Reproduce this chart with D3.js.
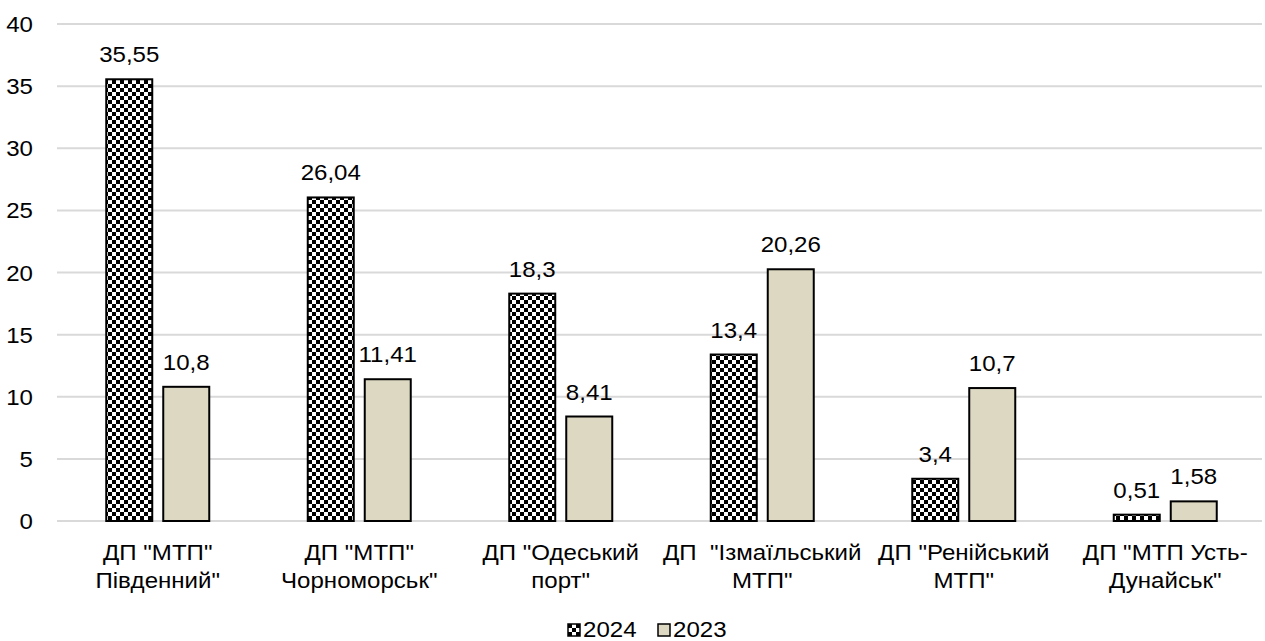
<!DOCTYPE html>
<html><head><meta charset="utf-8">
<script src="https://cdn.jsdelivr.net/npm/d3@7"></script>
<style>body{margin:0;background:#fff}svg{display:block;font-family:"Liberation Sans",Arial,sans-serif}</style>
</head><body><svg id="c" width="1265" height="641"></svg>
<script>
const categories = [["ДП \"МТП\"","Південний\""],["ДП \"МТП\"","Чорноморськ\""],["ДП \"Одеський","порт\""],["ДП  \"Ізмаїльський","МТП\""],["ДП \"Ренійський","МТП\""],["ДП \"МТП Усть-","Дунайськ\""]];
const values2024 = [35.55, 26.04, 18.3, 13.4, 3.4, 0.51];
const values2023 = [10.8, 11.41, 8.41, 20.26, 10.7, 1.58];
const labels2024 = ["35,55","26,04","18,3","13,4","3,4","0,51"];
const labels2023 = ["10,8","11,41","8,41","20,26","10,7","1,58"];
const yTicks = [0,5,10,15,20,25,30,35,40];
const seriesNames = ["2024","2023"];

const FS = 21.5, SX = 1.12;
const svg = d3.select("#c");
const defs = svg.append("defs");
const pat = defs.append("pattern").attr("id","chk").attr("patternUnits","userSpaceOnUse").attr("width",8).attr("height",8);
pat.append("rect").attr("width",8).attr("height",8).attr("fill","#fff");
pat.append("rect").attr("width",4).attr("height",4).attr("fill","#000");
pat.append("rect").attr("x",4).attr("y",4).attr("width",4).attr("height",4).attr("fill","#000");
const beige = "#ddd8c2";

function label(parent, x, yy, txt, anchor){
  return parent.append("text").attr("transform",`translate(${x},${yy}) scale(${SX},1)`)
    .attr("text-anchor",anchor||"middle").attr("font-size",FS).attr("fill","#000")
    .attr("style","white-space:pre").text(txt);
}

const x0 = d3.scaleBand().domain(d3.range(categories.length)).range([57, 1266]).paddingInner(0).paddingOuter(0);
const y = d3.scaleLinear().domain([0,40]).range([521, 24]);

svg.append("g").selectAll("line").data(yTicks).join("line")
  .attr("x1",57).attr("x2",1262).attr("y1",d=>y(d)).attr("y2",d=>y(d))
  .attr("stroke","#d9d9d9").attr("stroke-width",2);

const yg = svg.append("g");
yTicks.forEach(d=>label(yg, 33, y(d)+8, String(d), "end"));

const bw = 46, gap = 11;
const g = svg.append("g");
categories.forEach((c,i)=>{
  const cx = x0(i) + x0.bandwidth()/2;
  const xa = cx - gap/2 - bw, xb = cx + gap/2;
  g.append("rect").attr("x",xa).attr("y",y(values2024[i])).attr("width",bw).attr("height",y(0)-y(values2024[i]))
    .attr("fill","url(#chk)").attr("stroke","#000").attr("stroke-width",2);
  g.append("rect").attr("x",xb).attr("y",y(values2023[i])).attr("width",bw).attr("height",y(0)-y(values2023[i]))
    .attr("fill",beige).attr("stroke","#000").attr("stroke-width",2);
  label(g, xa+bw/2, y(values2024[i])-17, labels2024[i]);
  label(g, xb+bw/2, y(values2023[i])-17, labels2023[i]);
  c.forEach((line,k)=>label(g, cx, 560+k*28, line));
});

const lg = svg.append("g");
lg.append("rect").attr("x",568).attr("y",624).attr("width",12).attr("height",12).attr("fill","url(#chk)").attr("stroke","#000").attr("stroke-width",1.5);
label(lg, 583, 637, seriesNames[0], "start");
lg.append("rect").attr("x",658).attr("y",624).attr("width",12).attr("height",12).attr("fill",beige).attr("stroke","#000").attr("stroke-width",1.5);
label(lg, 673, 637, seriesNames[1], "start");
</script></body></html>
